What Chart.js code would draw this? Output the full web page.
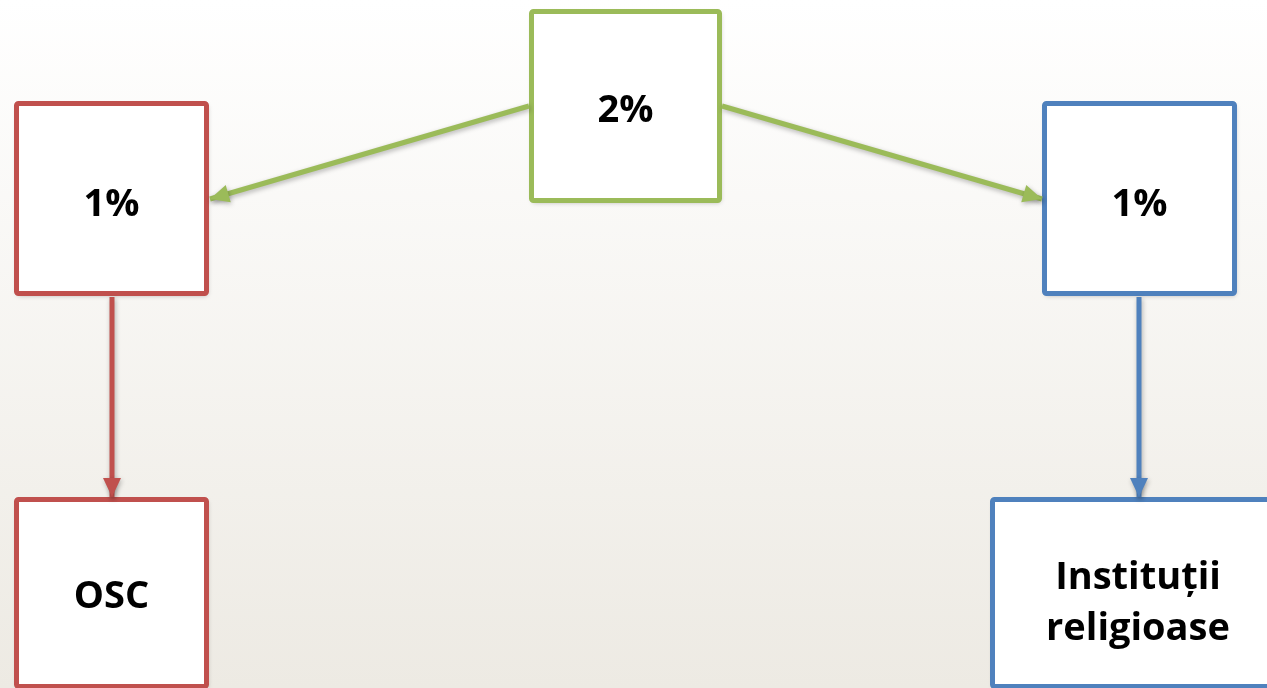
<!DOCTYPE html>
<html>
<head>
<meta charset="utf-8">
<script src="https://cdn.jsdelivr.net/npm/chart.js@4/dist/chart.umd.min.js"></script>
<style>
  html, body { margin: 0; padding: 0; background: #fff; overflow: hidden; }
  #wrap { width: 1267px; height: 688px; }
</style>
</head>
<body>
<div id="wrap"><canvas id="diagram" width="1267" height="688"></canvas></div>
<script>
// --- DIAGRAM DATA ---
const boxLabels = [['2%'], ['1%'], ['1%'], ['OSC'], ['Instituții', 'religioase']];
// box outlines (stroke centre lines, in page units)
const boxLeft   = [531.5, 16.5, 1044.5, 16.5, 992.5];
const boxTop    = [11.5, 103.5, 103.5, 499.5, 499.5];
const boxRight  = [719.5, 206.5, 1234.5, 206.5, 1300];
const boxBottom = [200.5, 293.5, 293.5, 686.5, 686.5];
const boxTextY  = [[122], [216], [216], [608], [589, 640]];

// arrows: from -> to (tip)
const arrowFromX = [529, 722, 112, 1139];
const arrowFromY = [106, 106, 297, 297];
const arrowToX   = [210, 1042, 112, 1139];
const arrowToY   = [199, 199, 497, 497];

const GREEN = '#9BBB59', RED = '#C0504D', BLUE = '#4F81BD';
const boxColors = [GREEN, RED, BLUE, RED, BLUE];
const arrowColors = [GREEN, GREEN, RED, BLUE];

const arrowDatasets = arrowFromX.map((fx, i) => ({
    data: [{ x: fx, y: arrowFromY[i] }, { x: arrowToX[i], y: arrowToY[i] }],
    showLine: true,
    borderColor: arrowColors[i],
    borderWidth: 5,
    pointRadius: 0,
    borderCapStyle: 'butt'
}));

function withShadow(ctx) {
    ctx.shadowColor = 'rgba(0,0,0,0.28)';
    ctx.shadowBlur = 5;
    ctx.shadowOffsetX = 1;
    ctx.shadowOffsetY = 2;
}

const diagramPlugin = {
    id: 'diagram',
    beforeDraw(chart) {
        const { ctx, width, height } = chart;
        const g = ctx.createLinearGradient(0, 0, 0, height);
        g.addColorStop(0, '#FFFFFF');
        g.addColorStop(1, '#EDEAE3');
        ctx.save();
        ctx.fillStyle = g;
        ctx.fillRect(0, 0, width, height);
        ctx.restore();
    },
    beforeDatasetsDraw(chart) {
        const { ctx, scales: { x, y } } = chart;
        boxLabels.forEach((_, i) => {
            const l = x.getPixelForValue(boxLeft[i]);
            const r = x.getPixelForValue(boxRight[i]);
            const t = y.getPixelForValue(boxTop[i]);
            const b = y.getPixelForValue(boxBottom[i]);
            ctx.save();
            withShadow(ctx);
            ctx.beginPath();
            ctx.roundRect(l, t, r - l, b - t, 2);
            ctx.fillStyle = '#FFFFFF';
            ctx.fill();
            ctx.shadowColor = 'transparent';
            ctx.lineWidth = 5;
            ctx.strokeStyle = boxColors[i];
            ctx.stroke();
            ctx.restore();
        });
    },
    beforeDatasetDraw(chart) {
        chart.ctx.save();
        withShadow(chart.ctx);
    },
    afterDatasetDraw(chart) {
        chart.ctx.restore();
    },
    afterDatasetsDraw(chart) {
        const { ctx, scales: { x, y } } = chart;
        // arrow heads
        arrowFromX.forEach((fx, i) => {
            const x0 = x.getPixelForValue(fx), y0 = y.getPixelForValue(arrowFromY[i]);
            const x1 = x.getPixelForValue(arrowToX[i]), y1 = y.getPixelForValue(arrowToY[i]);
            const a = Math.atan2(y1 - y0, x1 - x0);
            const len = 19, half = 9;
            ctx.save();
            withShadow(ctx);
            ctx.translate(x1, y1);
            ctx.rotate(a);
            ctx.beginPath();
            ctx.moveTo(0, 0);
            ctx.lineTo(-len, -half);
            ctx.lineTo(-len, half);
            ctx.closePath();
            ctx.fillStyle = arrowColors[i];
            ctx.fill();
            ctx.restore();
        });
        // labels
        ctx.save();
        ctx.fillStyle = '#000';
        ctx.font = 'bold 38px "Open Sans", Lato, sans-serif';
        ctx.textAlign = 'center';
        ctx.textBaseline = 'alphabetic';
        boxLabels.forEach((lines, i) => {
            const cx = x.getPixelForValue((boxLeft[i] + Math.min(boxRight[i], 1283.5)) / 2);
            lines.forEach((txt, k) => {
                ctx.fillText(txt, cx, y.getPixelForValue(boxTextY[i][k]));
            });
        });
        ctx.restore();
    }
};

new Chart(document.getElementById('diagram'), {
    type: 'scatter',
    data: { datasets: arrowDatasets },
    options: {
        responsive: false,
        animation: false,
        events: [],
        layout: { padding: 0 },
        scales: {
            x: { type: 'linear', min: 0, max: 1267, display: false },
            y: { type: 'linear', min: 0, max: 688, reverse: true, display: false }
        },
        plugins: { legend: { display: false }, tooltip: { enabled: false } }
    },
    plugins: [diagramPlugin]
});
</script>
</body>
</html>
